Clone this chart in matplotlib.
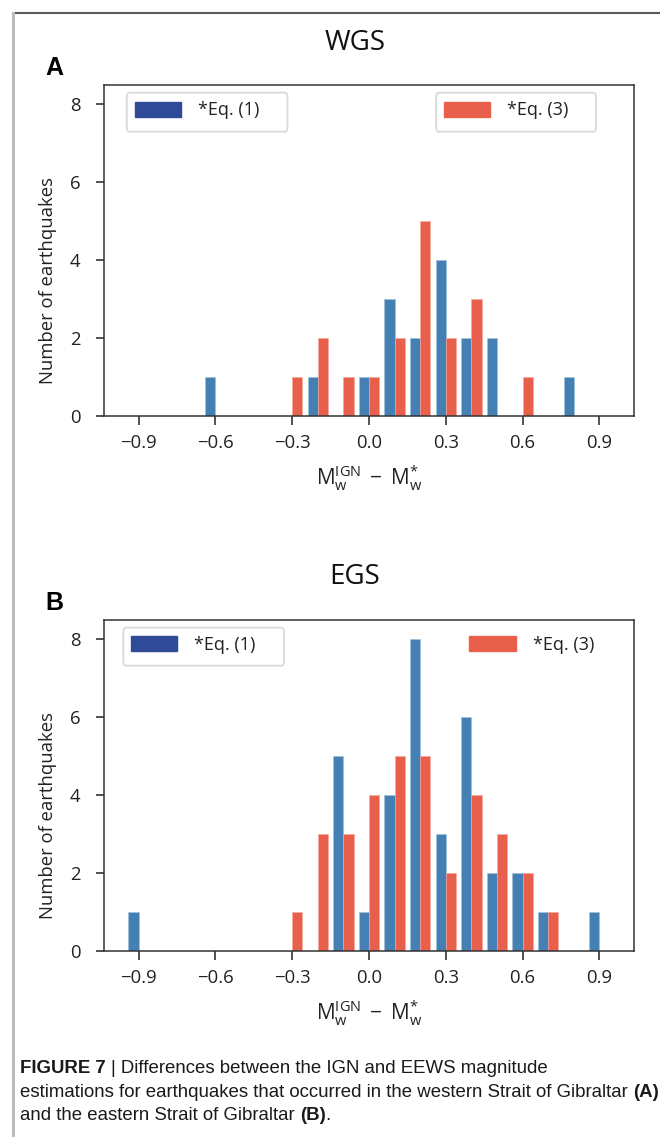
import matplotlib
matplotlib.use("Agg")
import matplotlib.pyplot as plt
from matplotlib.patches import Patch, FancyBboxPatch
from matplotlib.lines import Line2D

# ---- data -------------------------------------------------------------
bin_centers = [-0.9, -0.8, -0.7, -0.6, -0.5, -0.4, -0.3, -0.2, -0.1,
               0.0, 0.1, 0.2, 0.3, 0.4, 0.5, 0.6, 0.7, 0.8, 0.9]

# Western Strait of Gibraltar (WGS)
wgs_eq1 = [0, 0, 0, 1, 0, 0, 0, 1, 0, 1, 3, 2, 4, 2, 2, 0, 0, 1, 0]
wgs_eq3 = [0, 0, 0, 0, 0, 0, 1, 2, 1, 1, 2, 5, 2, 3, 0, 1, 0, 0, 0]

# Eastern Strait of Gibraltar (EGS)
egs_eq1 = [1, 0, 0, 0, 0, 0, 0, 0, 5, 1, 4, 8, 3, 6, 2, 2, 1, 0, 1]
egs_eq3 = [0, 0, 0, 0, 0, 0, 1, 3, 3, 4, 5, 5, 2, 4, 3, 2, 1, 0, 0]

x_ticks = [-0.9, -0.6, -0.3, 0.0, 0.3, 0.6, 0.9]
x_tick_labels = ["\u22120.9", "\u22120.6", "\u22120.3", "0.0", "0.3", "0.6", "0.9"]
y_ticks = [0, 2, 4, 6, 8]
series_labels = ["*Eq. (1)", "*Eq. (3)"]
panel_titles = ["WGS", "EGS"]
panel_letters = ["A", "B"]

# ---- style ------------------------------------------------------------
BAR_BLUE = "#4480b3"
BAR_RED = "#e8604c"
LEG_BLUE = "#2f4a96"
LEG_RED = "#e8604c"
SPINE = "#333333"
TEXT = "#222222"

plt.rcParams["font.family"] = ["Open Sans", "DejaVu Sans"]
plt.rcParams["mathtext.fontset"] = "custom"
plt.rcParams["mathtext.rm"] = "Open Sans"
plt.rcParams["mathtext.it"] = "Open Sans:italic"
plt.rcParams["mathtext.bf"] = "Open Sans:bold"

W, H = 660, 1137
fig = plt.figure(figsize=(W / 100, H / 100), dpi=100)


def fx(px):
    return px / W


def fy(py):
    return 1 - py / H


BAR_W = 0.04


def draw_panel(top_px, bottom_px, eq1, eq3, title, letter, legend_boxes,
               right_frame=True):
    left_px, right_px = 104, 634
    ax = fig.add_axes([fx(left_px), fy(bottom_px),
                       (right_px - left_px) / W, (bottom_px - top_px) / H])
    xs1 = [c - BAR_W / 2 for c in bin_centers]
    xs3 = [c + BAR_W / 2 for c in bin_centers]
    ax.bar(xs1, eq1, width=BAR_W, color=BAR_BLUE, edgecolor="#9fc0dc",
           linewidth=0.4)
    ax.bar(xs3, eq3, width=BAR_W, color=BAR_RED, edgecolor="#f3a89c",
           linewidth=0.4)
    ax.set_xlim(-1.035, 1.035)
    ax.set_ylim(0, 8.5)
    ax.set_xticks(x_ticks)
    ax.set_xticklabels(x_tick_labels)
    ax.set_yticks(y_ticks)
    ax.tick_params(direction="out", width=1.1, labelsize=13.3, colors=TEXT)
    ax.tick_params(axis="x", length=6.5, pad=6.5)
    ax.tick_params(axis="y", length=6, pad=11)
    for sp in ax.spines.values():
        sp.set_color(SPINE)
        sp.set_linewidth(1.1)
    ax.set_ylabel("Number of earthquakes", fontsize=13.3, color=TEXT)
    ax.yaxis.set_label_coords(-0.088, 0.41)
    ax.set_xlabel(r"$\mathregular{M_w^{IGN}\;-\;M_w^{*}}$", fontsize=15,
                  color=TEXT, labelpad=8)

    fig.text(fx(355), fy(top_px - 42), title, fontsize=20, ha="center",
             va="center", color="#111111")
    fig.text(fx(54), fy(top_px - 17), letter, fontsize=18, ha="center",
             va="center", fontweight="bold", family="Liberation Sans",
             color="#000000")

    # legend frames
    for i, (x0, y0, x1, y1) in enumerate(legend_boxes["frames"]):
        if i == 1 and not right_frame:
            continue
        fig.patches.append(FancyBboxPatch(
            (fx(x0), fy(y1)), fx(x1) - fx(x0), fy(y0) - fy(y1),
            boxstyle="round,pad=0,rounding_size=0.004",
            transform=fig.transFigure, facecolor="white",
            edgecolor="#dcdcdc", linewidth=1.4, zorder=1))

    handles = [Patch(facecolor=LEG_BLUE, edgecolor=LEG_BLUE),
               Patch(facecolor=LEG_RED, edgecolor=LEG_RED)]
    for h, lab, (px, py) in zip(handles, series_labels,
                                legend_boxes["anchors"]):
        leg = fig.legend(handles=[h], labels=[lab], loc="center left",
                         bbox_to_anchor=(fx(px), fy(py)),
                         bbox_transform=fig.transFigure, frameon=False,
                         borderpad=0, borderaxespad=0, handlelength=2.55,
                         handleheight=0.9, handletextpad=0.95, fontsize=13)
        for t in leg.get_texts():
            t.set_color(TEXT)
    return ax


draw_panel(85, 416, wgs_eq1, wgs_eq3, panel_titles[0], panel_letters[0],
           {"frames": [(126.8, 92.7, 287.5, 131.7),
                       (436.2, 92.7, 596.1, 131.7)],
            "anchors": [(134.5, 110.3), (444.3, 110.3)]})
draw_panel(619.5, 951, egs_eq1, egs_eq3, panel_titles[1], panel_letters[1],
           {"frames": [(123.3, 627.7, 284.0, 665.7),
                       (0, 0, 0, 0)],
            "anchors": [(131.0, 644.7), (469.5, 645.2)]},
           right_frame=False)

# page frame lines
fig.add_artist(Line2D([fx(12.5), 1.0], [fy(12.5), fy(12.5)],
                      transform=fig.transFigure, color="#5a5a5a", lw=1.5))
fig.add_artist(Line2D([fx(12.5), fx(12.5)], [fy(12.5), 0.0],
                      transform=fig.transFigure, color="#bdbdbd", lw=2.2))

# caption
CAP_X = 20
cap_kw = dict(family="Liberation Sans", fontsize=13.4, color="#1a1a1a",
              va="baseline", ha="left")
r = fig.canvas.get_renderer()


def caption_line(y, parts):
    x = fx(CAP_X)
    for txt, bold in parts:
        t = fig.text(x, fy(y), txt, fontweight="bold" if bold else "normal",
                     **cap_kw)
        fig.canvas.draw()
        x = t.get_window_extent(r).x1 / W


caption_line(1073, [("FIGURE 7 ", True),
                    ("| Differences between the IGN and EEWS magnitude", False)])
caption_line(1097, [("estimations for earthquakes that occurred in the western "
                     "Strait of Gibraltar ", False), ("(A)", True)])
caption_line(1120, [("and the eastern Strait of Gibraltar ", False),
                    ("(B)", True), (".", False)])

fig.savefig("out.png", dpi=100)
